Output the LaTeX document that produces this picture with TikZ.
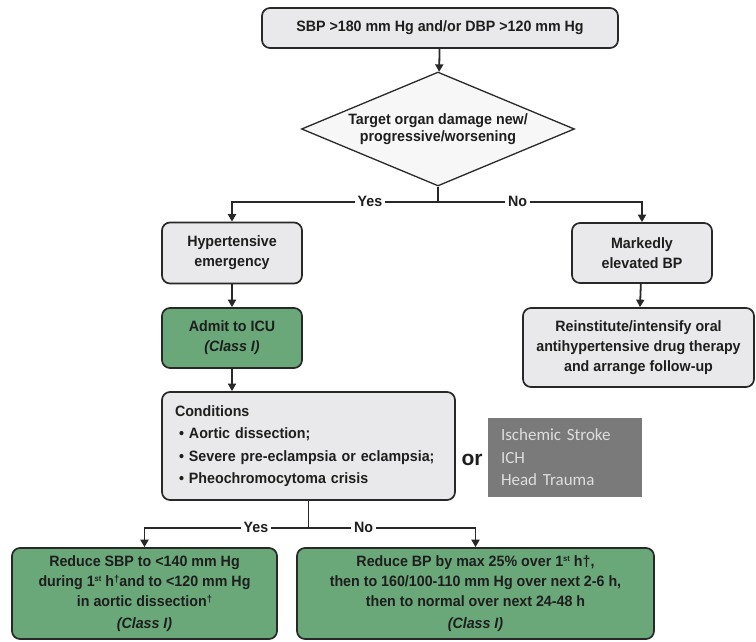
\documentclass[tikz,border=0pt]{standalone}
\usepackage{fontspec}
\setmainfont{Liberation Sans}[FakeStretch=0.95]
\newfontfamily\orfont{Liberation Sans}
\newfontfamily\lightsans{Carlito}
\usetikzlibrary{shapes.geometric,arrows.meta,calc}

\definecolor{boxgray}{RGB}{233,233,235}
\definecolor{diafill}{RGB}{247,247,247}
\definecolor{edge}{RGB}{40,40,40}
\definecolor{ink}{RGB}{30,30,30}
\definecolor{mgreen}{RGB}{106,168,122}
\definecolor{slatebox}{RGB}{122,122,122}
\definecolor{paletext}{RGB}{222,222,222}

\begin{document}
\begin{tikzpicture}[x=1pt,y=-1pt,
  base/.style={draw=edge, line width=1.7pt, rounded corners=8pt, align=center,
    text=ink, inner sep=0pt, font=\bfseries\fontsize{15}{20}\selectfont},
  graybox/.style={base, fill=boxgray},
  greenbox/.style={base, fill=mgreen},
  dia/.style={diamond, draw=edge, line width=1.3pt, fill=diafill, aspect=2.4,
    inner sep=0pt, align=center, text=ink,
    minimum width=273pt, minimum height=114pt,
    font=\bfseries\fontsize{15}{17}\selectfont},
  arr/.style={draw=edge, line width=1.8pt, -{Triangle[width=8pt,length=7.5pt]}},
  link/.style={draw=edge, line width=1.8pt},
  lbl/.style={fill=white, text=ink, inner xsep=3pt, inner ysep=1pt,
    font=\bfseries\fontsize{15}{16}\selectfont}]

\useasboundingbox[fill=white] (0,0) rectangle (756,642);

% top condition and decision
\node[graybox, minimum width=356pt, minimum height=40pt] (top) at (440,28)
  {SBP >180 mm Hg and/or DBP >120 mm Hg};
\node[dia] (dec) at (438,129) {Target organ damage new/\\progressive/worsening};

% first level branches
\node[graybox, minimum width=140pt, minimum height=61pt] (emerg) at (232,253)
  {Hypertensive\\emergency};
\node[graybox, minimum width=140pt, minimum height=60pt] (mark) at (642,253)
  {Markedly\\elevated BP};
\node[greenbox, minimum width=140pt, minimum height=60pt] (icu) at (232,338)
  {Admit to ICU\\\textit{(Class I)}};
\node[graybox, minimum width=231pt, minimum height=79pt] (rein) at (638.5,347.5)
  {Reinstitute/intensify oral\\antihypertensive drug therapy\\and arrange follow-up};

% conditions
\node[graybox, minimum width=293pt, minimum height=108pt, text width=267pt,
  align=left, font=\bfseries\fontsize{15}{22.3}\selectfont] (cond) at (308.5,446)
  {Conditions\\
   \hspace*{4pt}•\hspace{5pt}Aortic dissection;\\
   \hspace*{4pt}•\hspace{5pt}Severe pre-eclampsia or eclampsia;\\
   \hspace*{4pt}•\hspace{5pt}Pheochromocytoma crisis};
\node[text=ink, inner sep=0pt, font=\orfont\bfseries\fontsize{21}{22}\selectfont] (or) at (472,460) {or};
\node[fill=slatebox, text=paletext, minimum width=154pt, minimum height=79pt,
  text width=128pt, align=left, inner sep=0pt,
  font=\lightsans\fontsize{17}{22.5}\selectfont] (other) at (565,457.5)
  {Ischemic Stroke\\ICH\\Head Trauma};

% treatment targets
\node[greenbox, minimum width=265pt, minimum height=91pt] (red1) at (144.5,593.5)
  {Reduce SBP to <140 mm Hg\\
   during 1{\fontsize{8}{8}\selectfont\raisebox{5pt}{st}} h{\fontsize{10}{10}\selectfont\raisebox{4pt}{†}}and to <120 mm Hg\\
   in aortic dissection{\fontsize{10}{10}\selectfont\raisebox{4pt}{†}}\\[2pt]
   \textit{(Class I)}};
\node[greenbox, minimum width=357pt, minimum height=91pt] (red2) at (475.5,593.5)
  {Reduce BP by max 25\% over 1{\fontsize{8}{8}\selectfont\raisebox{5pt}{st}} h†,\\
   then to 160/100-110 mm Hg over next 2-6 h,\\
   then to normal over next 24-48 h\\[2pt]
   \textit{(Class I)}};

% connectors
\draw[arr] (top) -- (dec);
\coordinate (s1) at ($(dec.south)+(0,15)$);
\draw[link] (dec.south) -- (s1);
\draw[arr] (s1) -- node[lbl, pos=0.33] {Yes} (s1 -| emerg.north) -- (emerg.north);
\draw[arr] (s1) -- node[lbl, pos=0.39] {No} (s1 -| mark.north) -- (mark.north);
\draw[arr] (emerg) -- (icu);
\draw[arr] (mark) -- (rein);
\draw[arr] (icu.south) -- (icu.south |- cond.north);

\coordinate (s2) at ($(cond.south)+(0,27)$);
\draw[link] (cond.south) -- (s2);
\draw[arr] (s2) -- node[lbl, pos=0.32] {Yes} (s2 -| red1.north) -- (red1.north);
\draw[arr] (s2) -- node[lbl, pos=0.33] {No} (s2 -| red2.north) -- (red2.north);
\end{tikzpicture}
\end{document}
